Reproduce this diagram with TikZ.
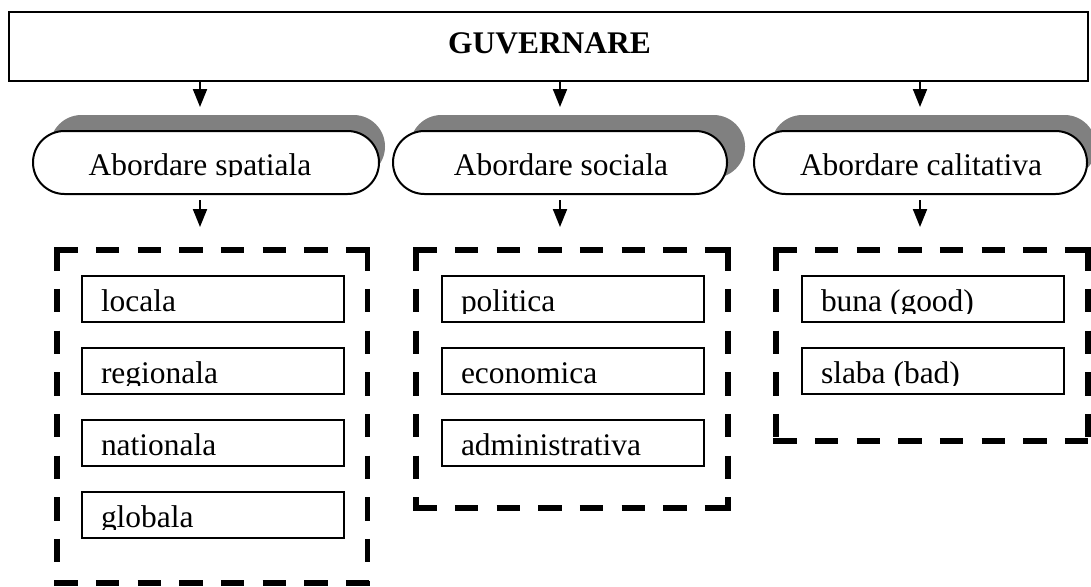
\documentclass[tikz,border=0pt]{standalone}
\usepackage{fontspec}
\setmainfont{Liberation Serif}
\usetikzlibrary{arrows.meta}
\definecolor{shadowgray}{RGB}{128,128,128}
\begin{document}
\begin{tikzpicture}[x=0.75pt,y=-0.75pt,
  every node/.style={inner sep=0pt, outer sep=0pt},
  lbl/.style={font=\fontsize{23.6pt}{28pt}\selectfont},
  frame/.style={draw, line width=1.5pt, fill=white},
  topbox/.style={frame, minimum width=809.25pt, minimum height=51.75pt},
  oval/.style={frame, rounded corners=23.6pt, minimum height=47.25pt},
  shade/.style={fill=shadowgray, rounded corners=23.6pt, minimum height=47.25pt},
  item/.style={frame, minimum width=197pt, minimum height=34.3pt},
  dsh/.style={line width=4.1pt, dash pattern=on 17.6pt off 13.65pt, shorten <=-2.05pt, shorten >=-2.05pt},
  arr/.style={line width=1.5pt, -{Triangle[width=10.5pt,length=13.5pt]}}
]
\clip (0,0) rectangle (1091,586);

% top box
\node[topbox] (top) at (548.5,46.5) {};
\node[lbl, font=\fontsize{23.6pt}{28pt}\selectfont\bfseries, anchor=base] (ttop) at (549.5,53) {GUVERNARE};

% shadows
\node[shade, minimum width=251.25pt] (s1) at (217.5,146.5) {};
\node[shade, minimum width=251.25pt] (s2) at (577.5,146.5) {};
\node[shade, minimum width=243.75pt] (s3) at (933.5,146.5) {};

% ovals
\node[oval, minimum width=259.5pt] (e1) at (206,162.5) {};
\node[oval, minimum width=250.5pt] (e2) at (560,162.5) {};
\node[oval, minimum width=249.75pt] (e3) at (920.5,162.5) {};

\begin{scope}
  \clip (30,128) rectangle (1091,176.5);
  \node[lbl, anchor=base] (te1) at (200,175) {Abordare spatiala};
  \node[lbl, anchor=base] (te2) at (561,175) {Abordare sociala};
  \node[lbl, anchor=base] (te3) at (921,175) {Abordare calitativa};
\end{scope}

% arrows top -> ovals
\coordinate (a1) at (200,107);
\coordinate (a2) at (560,107);
\coordinate (a3) at (920,107);
\draw[arr] (top.south -| a1) -- (a1);
\draw[arr] (top.south -| a2) -- (a2);
\draw[arr] (top.south -| a3) -- (a3);

% arrows ovals -> groups
\coordinate (b1s) at (200,200);
\coordinate (b2s) at (560,200);
\coordinate (b3s) at (920,200);
\coordinate (b1) at (200,227);
\coordinate (b2) at (560,227);
\coordinate (b3) at (920,227);
\draw[arr] (b1s) -- (b1);
\draw[arr] (b2s) -- (b2);
\draw[arr] (b3s) -- (b3);

% dashed groups
\node[minimum width=232.9pt, minimum height=249.75pt] (d1) at (212.25,416.5) {};
\node[minimum width=234pt, minimum height=193.5pt] (d2) at (572,379) {};
\node[minimum width=234pt, minimum height=143.25pt] (d3) at (932,345.5) {};
\foreach \d in {d1,d2,d3}{
  \draw[dsh] (\d.north west) -- (\d.north east);
  \draw[dsh] (\d.north west) -- (\d.south west);
  \draw[dsh] (\d.north east) -- (\d.south east);
  \draw[dsh] (\d.south west) -- (\d.south east);
}

% items
\node[item] (i11) at (213,298.8) {};
\node[item] (i12) at (213,370.8) {};
\node[item] (i13) at (213,442.8) {};
\node[item] (i14) at (213,514.8) {};
\node[item] (i21) at (573,298.8) {};
\node[item] (i22) at (573,370.8) {};
\node[item] (i23) at (573,442.8) {};
\node[item] (i31) at (933,298.8) {};
\node[item] (i32) at (933,370.8) {};

\begin{scope}
  \clip (0,270) rectangle (1091,313.3);
  \node[lbl, anchor=base west] (t11) at (101,311.8) {locala};
  \node[lbl, anchor=base west] (t21) at (461,311.8) {politica};
  \node[lbl, anchor=base west] (t31) at (821,311.8) {buna (good)};
\end{scope}
\begin{scope}
  \clip (0,342) rectangle (1091,385.3);
  \node[lbl, anchor=base west] (t12) at (101,383.8) {regionala};
  \node[lbl, anchor=base west] (t22) at (461,383.8) {economica};
  \node[lbl, anchor=base west] (t32) at (821,383.8) {slaba (bad)};
\end{scope}
\begin{scope}
  \clip (0,414) rectangle (1091,457.3);
  \node[lbl, anchor=base west] (t13) at (101,455.8) {nationala};
  \node[lbl, anchor=base west] (t23) at (461,455.8) {administrativa};
\end{scope}
\begin{scope}
  \clip (0,486) rectangle (1091,529.3);
  \node[lbl, anchor=base west] (t14) at (101,527.8) {globala};
\end{scope}
\end{tikzpicture}
\end{document}
